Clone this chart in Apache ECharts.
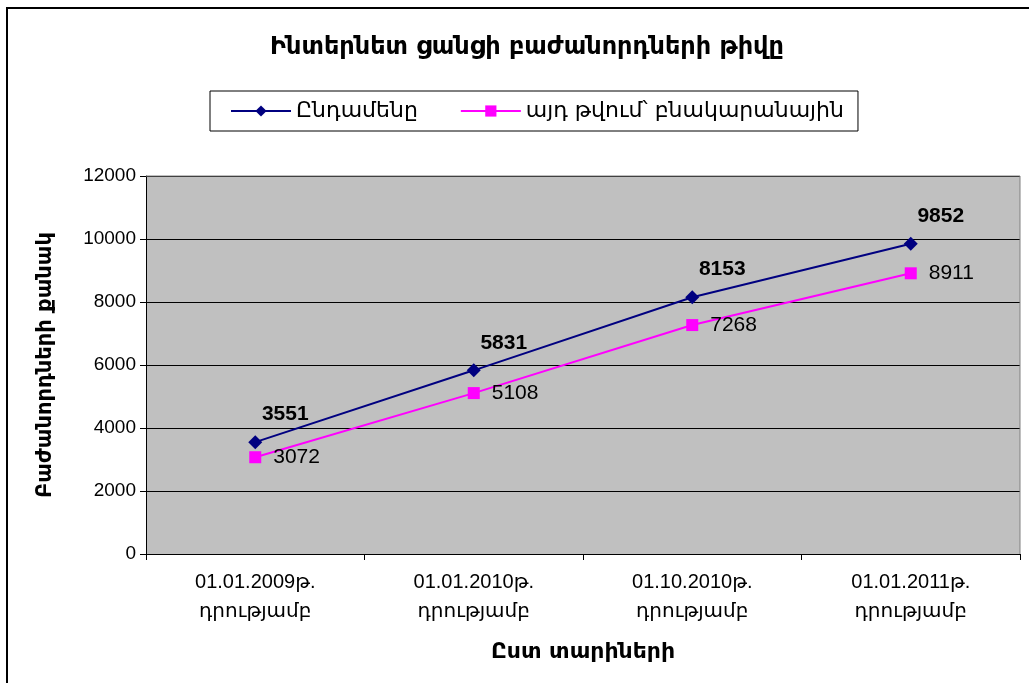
<!DOCTYPE html>
<html>
<head>
<meta charset="utf-8">
<script src="https://cdn.jsdelivr.net/npm/echarts@6/dist/echarts.min.js"></script>
<style>
  html, body { margin: 0; padding: 0; background: #fff; overflow: hidden; }
  #frame { position: absolute; left: 6px; top: 7px; width: 1040px; height: 700px; border: 2px solid #000; box-sizing: border-box; }
  #main { position: absolute; left: 0; top: 0; width: 1029px; height: 683px; }
</style>
</head>
<body>
<div id="frame"></div>
<div id="main"></div>
<script>
// տվյալներ
var categories = [
  "01.01.2009թ.\nդրությամբ",
  "01.01.2010թ.\nդրությամբ",
  "01.10.2010թ.\nդրությամբ",
  "01.01.2011թ.\nդրությամբ"
];
var seriesNames = ["Ընդամենը", "այդ թվում՝ բնակարանային"];
var totalValues = [3551, 5831, 8153, 9852];
var homeValues = [3072, 5108, 7268, 8911];
var yTicks = { min: 0, max: 12000, interval: 2000 };

var chart = echarts.init(document.getElementById("main"));
var armFont = "'DejaVu Sans', 'Liberation Sans', sans-serif";
var numFont = "'Liberation Sans', 'DejaVu Sans', sans-serif";

var option = {
  backgroundColor: "transparent",
  animation: false,
  title: {
    text: "Ինտերնետ ցանցի բաժանորդների թիվը",
    left: 522,
    textAlign: "center",
    top: 31,
    textStyle: { fontFamily: armFont, fontSize: 24, fontWeight: "bold", color: "#000" }
  },
  legend: {
    data: seriesNames,
    left: 210,
    top: 91,
    padding: [9, 14, 9, 20],
    itemGap: 42,
    itemWidth: 60,
    itemHeight: 14,
    borderColor: "#000",
    borderWidth: 1,
    textStyle: { fontFamily: armFont, fontSize: 22, color: "#000" }
  },
  grid: { left: 146, right: 9, top: 176, bottom: 129 },
  xAxis: {
    type: "category",
    data: categories,
    boundaryGap: true,
    name: "Ըստ տարիների",
    nameLocation: "middle",
    nameGap: 87,
    nameTextStyle: { fontFamily: armFont, fontSize: 22, fontWeight: "bold", color: "#000" },
    axisLine: { lineStyle: { color: "#000", width: 1 } },
    axisTick: { show: true, alignWithLabel: false, length: 6, lineStyle: { color: "#000" } },
    axisLabel: {
      margin: 14,
      fontFamily: numFont,
      fontSize: 20,
      lineHeight: 29,
      color: "#000"
    }
  },
  yAxis: {
    type: "value",
    min: yTicks.min,
    max: yTicks.max,
    interval: yTicks.interval,
    name: "Բաժանորդների քանակ",
    nameLocation: "middle",
    nameGap: 90,
    nameTextStyle: { fontFamily: armFont, fontSize: 21, fontWeight: "bold", color: "#000" },
    axisLine: { show: true, lineStyle: { color: "#000", width: 1 } },
    axisTick: { show: true, length: 6, lineStyle: { color: "#000" } },
    axisLabel: {
      margin: 10,
      fontFamily: numFont,
      fontSize: 19,
      color: "#000",
      formatter: function (v) { return String(v); }
    },
    splitLine: { lineStyle: { color: "#000", width: 1 } },
    splitArea: { show: true, areaStyle: { color: ["#c0c0c0"] } }
  },
  series: [
    {
      name: seriesNames[0],
      type: "line",
      data: totalValues,
      symbol: "diamond",
      symbolSize: 14,
      color: "#000080",
      lineStyle: { width: 2, color: "#000080" },
      itemStyle: { color: "#000080" },
      label: {
        show: true,
        position: "top",
        distance: 10,
        offset: [30, 0],
        fontFamily: numFont,
        fontSize: 21,
        fontWeight: "bold",
        color: "#000"
      },
      z: 3
    },
    {
      name: seriesNames[1],
      type: "line",
      data: homeValues,
      symbol: "rect",
      symbolSize: 12,
      color: "#ff00ff",
      lineStyle: { width: 2, color: "#ff00ff" },
      itemStyle: { color: "#ff00ff" },
      label: {
        show: true,
        position: "right",
        distance: 12,
        fontFamily: numFont,
        fontSize: 21,
        color: "#000"
      },
      z: 2
    }
  ],
  graphic: [
    {
      type: "polyline",
      shape: { points: [[146, 176], [1020, 176], [1020, 554]] },
      style: { stroke: "#808080", lineWidth: 1, fill: null },
      z: 1
    }
  ]
};
chart.setOption(option);
</script>
</body>
</html>
